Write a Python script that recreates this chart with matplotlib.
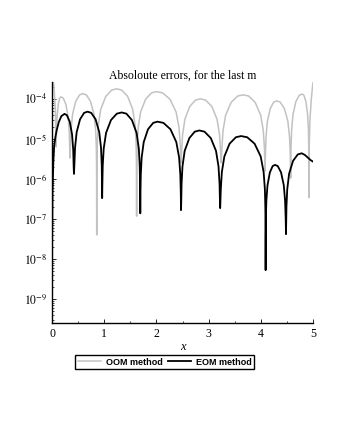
import numpy as np
import matplotlib
matplotlib.use('Agg')
import matplotlib.pyplot as plt
from matplotlib.ticker import FuncFormatter, FixedLocator, LogLocator, MultipleLocator

plt.rcParams['font.family'] = ['Liberation Serif', 'DejaVu Serif']
plt.rcParams['mathtext.fontset'] = 'stix'

# OOM method: x positions and log10 of the absolute error
oom_x = [0.0, 0.04, 0.065, 0.078,
         0.085, 0.096, 0.119, 0.147, 0.17, 0.214, 0.266, 0.31, 0.331, 0.34, 0.345,
         0.352, 0.365, 0.394, 0.455, 0.529, 0.59, 0.657, 0.736, 0.803, 0.835, 0.848, 0.853, 0.856,
         0.857, 0.86, 0.868, 0.887, 0.933, 1.029, 1.144, 1.24, 1.335, 1.449, 1.544, 1.59, 1.609, 1.616, 1.62,
         1.624, 1.631, 1.65, 1.696, 1.791, 1.905, 2.0, 2.118, 2.259, 2.376, 2.432, 2.456, 2.47,
         2.481, 2.5, 2.544, 2.637, 2.748, 2.84, 2.94, 3.06, 3.16, 3.208, 3.228, 3.24,
         3.253, 3.274, 3.324, 3.429, 3.555, 3.66, 3.765, 3.891, 3.996, 4.046, 4.067, 4.08,
         4.087, 4.098, 4.124, 4.179, 4.245, 4.3, 4.368, 4.449, 4.516, 4.548, 4.562, 4.57,
         4.577, 4.588, 4.614, 4.669, 4.735, 4.79, 4.823, 4.862, 4.894, 4.91, 4.916, 4.92,
         4.925, 4.94, 4.965, 5.0]
oom_log = [-3.2, -3.75, -4.3, -5.2,
           -4.85, -4.46, -4.14, -3.98, -3.95, -3.98, -4.14, -4.46, -4.85, -5.28, -5.48,
           -5.2, -4.77, -4.38, -4.06, -3.9, -3.87, -3.9, -4.06, -4.38, -4.77, -5.2, -5.67, -7.4,
           -6.08, -5.55, -5.08, -4.65, -4.26, -3.94, -3.78, -3.75, -3.78, -3.94, -4.26, -4.65, -5.08, -5.55, -6.93,
           -5.62, -5.15, -4.72, -4.33, -4.01, -3.85, -3.82, -3.85, -4.01, -4.33, -4.72, -5.15, -5.6,
           -5.33, -4.9, -4.51, -4.19, -4.03, -4.0, -4.03, -4.19, -4.51, -4.9, -5.33, -5.6,
           -5.23, -4.8, -4.41, -4.09, -3.93, -3.9, -3.93, -4.09, -4.41, -4.8, -5.23, -5.8,
           -5.38, -4.95, -4.56, -4.24, -4.08, -4.05, -4.08, -4.24, -4.56, -4.95, -5.38, -5.98,
           -5.21, -4.78, -4.39, -4.07, -3.91, -3.88, -3.91, -4.07, -4.39, -4.78, -5.21, -6.47,
           -5.2, -4.5, -4.0, -3.55]

# EOM method
eom_x = [0.0, 0.003, 0.01, 0.025, 0.04, 0.065, 0.09, 0.13, 0.18, 0.24,
         0.285, 0.339, 0.384, 0.406, 0.415, 0.42,
         0.428, 0.441, 0.472, 0.537, 0.615, 0.68, 0.75, 0.834, 0.904, 0.938, 0.952, 0.96,
         0.964, 0.971, 0.99, 1.035, 1.129, 1.241, 1.335, 1.424, 1.53, 1.619, 1.662, 1.679, 1.686, 1.69,
         1.693, 1.7, 1.716, 1.756, 1.838, 1.938, 2.02, 2.133, 2.268, 2.38, 2.434, 2.457, 2.466, 2.47,
         2.474, 2.481, 2.498, 2.54, 2.63, 2.733, 2.82, 2.92, 3.04, 3.14, 3.188, 3.208, 3.216, 3.22,
         3.232, 3.252, 3.3, 3.4, 3.52, 3.62, 3.738, 3.879, 3.996, 4.052, 4.076, 4.085, 4.0886, 4.09,
         4.0905, 4.092, 4.095, 4.104, 4.126, 4.171, 4.225, 4.27, 4.323, 4.386, 4.438, 4.463, 4.474, 4.48,
         4.489, 4.504, 4.54, 4.615, 4.705, 4.78, 4.84, 4.9, 4.95, 5.0]
eom_log = [-10.5, -7.5, -6.3, -5.6, -5.2, -4.95, -4.78, -4.58, -4.43, -4.375,
           -4.41, -4.57, -4.89, -5.28, -5.71, -5.875,
           -5.65, -5.22, -4.83, -4.51, -4.35, -4.32, -4.35, -4.51, -4.83, -5.22, -5.65, -6.48,
           -6.14, -5.67, -5.24, -4.85, -4.53, -4.37, -4.34, -4.37, -4.53, -4.85, -5.24, -5.67, -6.14, -6.86,
           -6.37, -5.9, -5.47, -5.08, -4.76, -4.6, -4.57, -4.6, -4.76, -5.08, -5.47, -5.9, -6.37, -6.78,
           -6.59, -6.12, -5.69, -5.3, -4.98, -4.82, -4.79, -4.82, -4.98, -5.3, -5.69, -6.12, -6.59, -6.73,
           -6.26, -5.83, -5.44, -5.12, -4.96, -4.93, -4.96, -5.12, -5.44, -5.83, -6.26, -6.73, -7.26, -8.28,
           -7.98, -7.45, -6.98, -6.55, -6.16, -5.84, -5.68, -5.65, -5.68, -5.84, -6.16, -6.55, -6.98, -7.38,
           -6.69, -6.26, -5.87, -5.55, -5.39, -5.36, -5.4, -5.47, -5.53, -5.57]

y_decades = [-9, -8, -7, -6, -5, -4]
x_ticks = [0, 1, 2, 3, 4, 5]

fig = plt.figure(figsize=(3.4, 4.4), dpi=100)
ax = fig.add_axes([0.153, 0.266, 0.768, 0.548])

l1, = ax.plot(oom_x, 10.0 ** np.array(oom_log), color='#c2c2c2', lw=1.1, label='OOM method')
l2, = ax.plot(eom_x, 10.0 ** np.array(eom_log), color='black', lw=1.3, label='EOM method')

ax.set_yscale('log')
ax.set_xlim(0, 5)
ax.set_ylim(10 ** -9.6, 10 ** -3.575)

ax.yaxis.set_major_locator(FixedLocator([10.0 ** d for d in y_decades]))
ax.yaxis.set_major_formatter(FuncFormatter(lambda v, p: r'$10^{-%d}$' % round(-np.log10(v))))
ax.yaxis.set_minor_locator(LogLocator(base=10, subs=np.arange(2, 10)))
ax.yaxis.set_minor_formatter(FuncFormatter(lambda v, p: ''))
ax.set_xticks(x_ticks)
ax.xaxis.set_minor_locator(MultipleLocator(0.5))

for s in ['top', 'right']:
    ax.spines[s].set_visible(False)
for s in ['left', 'bottom']:
    ax.spines[s].set_linewidth(1.0)

ax.tick_params(which='major', direction='in', length=3, width=0.6, labelsize=8.5)
ax.tick_params(which='minor', direction='in', length=1.5, width=0.5)

ax.set_title('Absoloute errors, for the last m', fontsize=8.5, pad=1.5)
ax.set_xlabel('x', fontsize=9, style='italic', labelpad=1)

fig.legend(handles=[l1, l2], loc='center', bbox_to_anchor=(0.484, 0.177), ncol=2,
           frameon=True, fancybox=False, edgecolor='black', framealpha=1,
           prop={'family': 'Liberation Sans', 'weight': 'bold', 'size': 6.5},
           handlelength=2.6, columnspacing=0.6, handletextpad=0.5, borderpad=0.3)

fig.savefig('out.png', dpi=100)
